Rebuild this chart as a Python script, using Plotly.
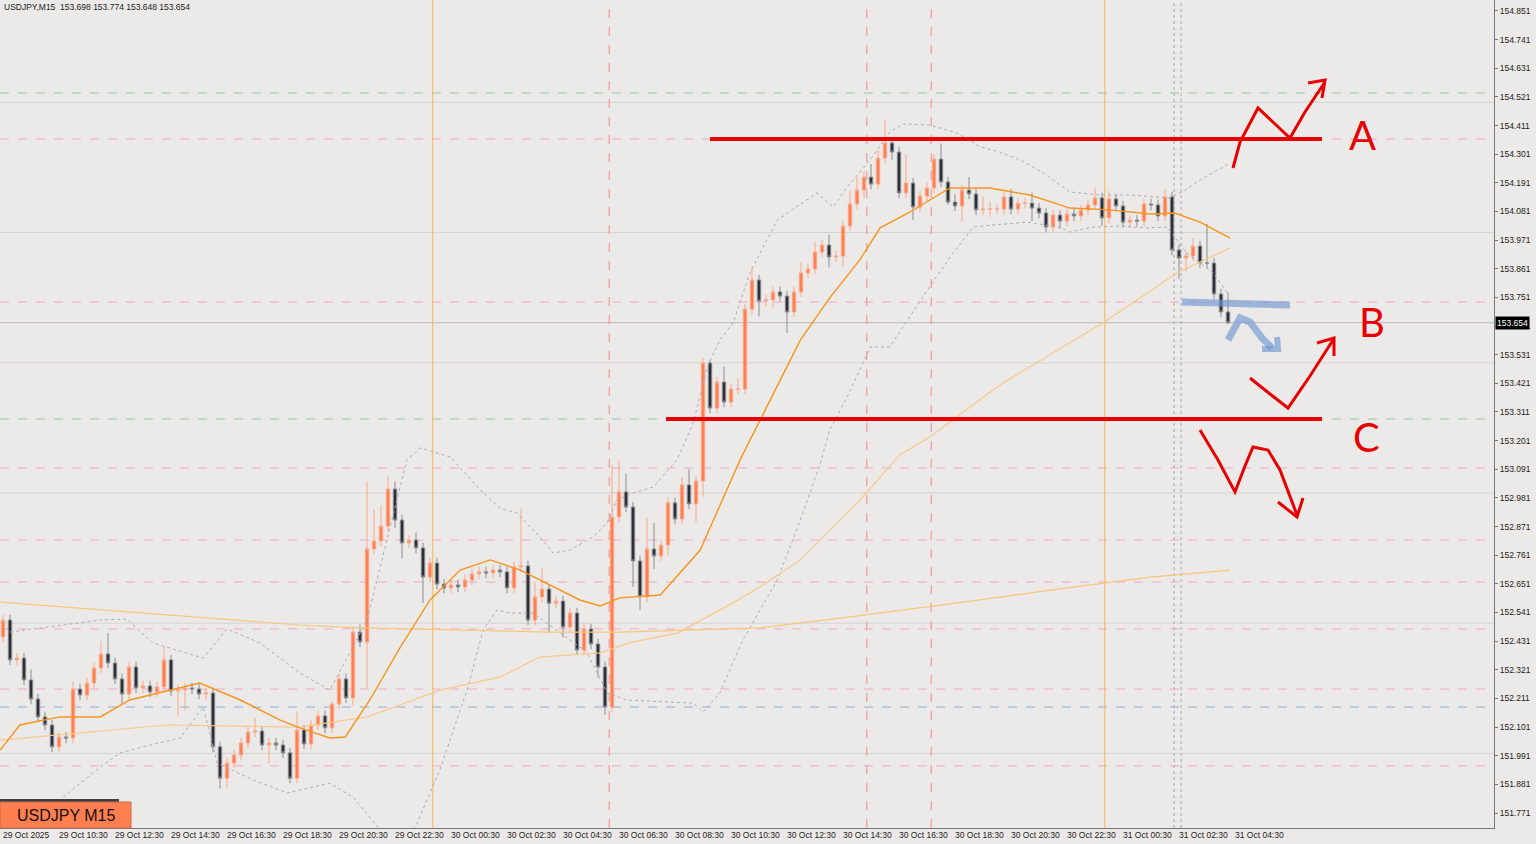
import plotly.graph_objects as go

# ---------------- data ----------------
close = [152.512,152.359,152.366,152.282,152.209,152.140,152.109,152.025,152.063,152.059,
 152.247,152.224,152.270,152.328,152.382,152.347,152.286,152.228,152.332,152.251,
 152.259,152.236,152.255,152.359,152.240,152.244,152.251,152.247,152.228,152.232,
 152.025,151.905,151.963,151.994,152.040,152.082,152.086,152.032,152.040,152.032,
 152.002,151.905,152.090,152.036,152.109,152.144,152.098,152.190,152.286,152.213,
 152.466,152.428,152.785,152.816,152.873,153.015,152.896,152.808,152.819,152.789,
 152.677,152.731,152.650,152.635,152.647,152.639,152.666,152.689,152.697,152.693,
 152.704,152.697,152.635,152.716,152.720,152.512,152.601,152.631,152.577,152.585,
 152.485,152.539,152.397,152.478,152.420,152.332,152.178,152.908,153.004,152.946,
 152.739,152.601,152.785,152.758,152.800,152.962,152.900,153.031,152.958,153.046,
 153.499,153.326,153.426,153.349,153.399,153.399,153.706,153.818,153.737,153.741,
 153.772,153.756,153.695,153.772,153.845,153.860,153.925,153.952,153.906,153.910,
 154.025,154.110,154.163,154.213,154.186,154.286,154.344,154.309,154.152,154.190,
 154.098,154.140,154.171,154.282,154.194,154.117,154.102,154.163,154.148,154.087,
 154.090,154.090,154.090,154.137,154.090,154.113,154.113,154.094,154.075,154.021,
 154.067,154.044,154.071,154.064,154.087,154.106,154.133,154.056,154.129,154.102,
 154.040,154.048,154.044,154.110,154.106,154.064,154.137,153.933,153.902,153.910,
 153.948,153.883,153.883,153.764,153.695,153.654]
first_open = 152.447

upper_wick = [.02,.02,.02,.02,.04,.02,.02,.02,.02,.02,
 .03,.02,.02,.02,.05,.08,.02,.02,.02,.02,
 .02,.02,.02,.05,.02,.02,.02,.02,.02,.02,
 .02,.02,.02,.02,.02,.02,.05,.02,.02,.02,
 .02,.02,.07,.02,.02,.02,.02,.01,.02,.02,
 .02,.03,.26,.12,.08,.05,.03,.02,.02,.03,
 .02,.02,.02,.02,.02,.02,.02,.02,.02,.02,
 .02,.02,.02,.02,.22,.02,.06,.08,.02,.02,
 .02,.02,.02,.02,.02,.02,.02,.20,.12,.07,
 .02,.02,.12,.10,.02,.02,.02,.03,.06,.02,
 .02,.01,.02,.06,.02,.04,.02,.05,.02,.02,
 .02,.02,.02,.02,.04,.02,.04,.02,.04,.02,
 .02,.05,.05,.02,.05,.03,.09,.02,.02,.11,
 .02,.02,.02,.02,.06,.02,.03,.02,.05,.02,
 .05,.03,.02,.02,.03,.02,.02,.04,.02,.02,
 .02,.02,.02,.02,.02,.02,.04,.02,.03,.02,
 .02,.02,.02,.02,.02,.02,.03,.02,.02,.02,
 .03,.02,.15,.02,.02,.076]
lower_wick = [.02,.02,.02,.02,.02,.02,.02,.02,.02,.02,
 .02,.02,.02,.02,.02,.02,.02,.04,.02,.02,
 .02,.02,.02,.02,.02,.10,.08,.02,.02,.02,
 .02,.04,.04,.02,.02,.02,.02,.02,.07,.02,
 .02,.02,.02,.02,.02,.02,.02,.02,.02,.02,
 .03,.02,.18,.02,.02,.02,.03,.06,.02,.02,
 .10,.02,.02,.02,.02,.02,.02,.02,.02,.02,
 .02,.02,.02,.02,.02,.02,.02,.02,.115,.02,
 .04,.02,.02,.02,.02,.04,.03,.02,.02,.02,
 .10,.05,.02,.05,.02,.04,.02,.02,.02,.07,
 .06,.02,.02,.02,.02,.02,.02,.02,.06,.02,
 .03,.02,.08,.02,.02,.02,.02,.02,.04,.02,
 .04,.02,.02,.03,.02,.02,.02,.03,.02,.02,
 .05,.02,.02,.02,.02,.01,.02,.06,.02,.02,
 .02,.03,.02,.02,.02,.02,.02,.05,.02,.02,
 .02,.03,.02,.02,.02,.02,.02,.03,.02,.02,
 .02,.02,.02,.02,.02,.02,.02,.02,.08,.05,
 .02,.02,.02,.02,.02,.006]

# indicator lines (bar index, price)
ma20_x = [-0.4,2.4,8.1,13.9,18.1,23.9,28.1,33.9,39.6,42.4,46.7,48.9,52.4,56.7,61,65.3,69.6,73.9,79.6,82.4,85.3,88.1,93.9,99.6,105.3,109.6,113.9,118.1,122.4,125.3,129.6,132.4,135.3,141,146.7,152.4,158.1,163.9,167.4,171,175.3]
ma20_y = [152.013,152.109,152.140,152.140,152.205,152.243,152.270,152.205,152.128,152.098,152.059,152.063,152.205,152.405,152.589,152.704,152.743,152.704,152.627,152.589,152.566,152.597,152.608,152.781,153.127,153.357,153.587,153.749,153.895,154.018,154.079,154.125,154.171,154.171,154.144,154.094,154.087,154.071,154.075,154.040,153.979]
ma50_x = [-0.4,23.4,42.4,52,56.7,62.4,71,76.7,85.3,90,96.3,104.3,108.1,113.9,122.4,128.1,132.4,142.4,157.1,167.7,175.3]
ma50_y = [152.051,152.109,152.101,152.140,152.186,152.243,152.293,152.370,152.386,152.428,152.462,152.578,152.639,152.743,152.973,153.146,153.215,153.415,153.653,153.845,153.941]
ma200_x = [-0.4,13.9,28.1,42.4,51,63.9,78.1,88.1,99.6,108.1,121,135.3,149.6,163.9,175.3]
ma200_y = [152.581,152.551,152.524,152.493,152.482,152.474,152.466,152.466,152.474,152.482,152.524,152.574,152.627,152.677,152.704]
bbu_x = [1,13.9,17.7,21.4,28.6,32,36.7,42.4,46.7,52,57.7,59.6,63.9,68.6,71,73.4,76.7,78.6,81,84.3,86.3,87.7,90,92.9,96.3,98.6,100.6,102.4,104.3,106.7,110.6,116.3,118.6,120.6,123.9,126.7,128.6,132.4,136.3,139.6,142.4,145.3,148.6,152.4,156.7,161,166.7,168.9,171,175.3]
bbu_y = [152.466,152.512,152.516,152.424,152.366,152.478,152.424,152.309,152.243,152.512,153.127,153.173,153.138,153.000,152.942,152.923,152.831,152.769,152.781,152.831,152.885,152.973,153.000,153.023,153.127,153.269,153.484,153.587,153.653,153.845,154.048,154.152,154.098,154.175,154.279,154.386,154.417,154.413,154.382,154.329,154.309,154.279,154.229,154.156,154.144,154.144,154.133,154.163,154.202,154.267]
bbl_x = [8.6,13.9,16.7,20,25.3,28.6,30.6,35.7,40.6,46.7,50,53.9,58.1,62.4,66.3,68.6,70.6,72.4,75.7,83.4,86.3,89.1,98.6,100,102.4,105.7,110.6,113.9,116.7,118.1,120.6,123.9,126.7,131.4,135.3,138.6,141.4,146.3,151,152.4,155.7,159.1,163.4,166.3,169.1,172.9,174.9]
bbl_y = [151.832,151.948,152.001,152.025,152.059,152.178,151.963,151.898,151.848,151.886,151.832,151.706,151.667,151.936,152.243,152.474,152.551,152.539,152.539,152.389,152.232,152.205,152.193,152.159,152.232,152.435,152.666,152.896,153.108,153.242,153.368,153.561,153.561,153.753,153.906,154.021,154.029,154.040,154.021,154.002,154.021,154.025,154.018,154.021,153.921,153.845,153.768]

price_ticks = [154.851,154.741,154.631,154.521,154.411,154.301,154.191,154.081,153.971,153.861,153.751,153.641,153.531,153.421,153.311,153.201,153.091,152.981,152.871,152.761,152.651,152.541,152.431,152.321,152.211,152.101,151.991,151.881,151.771]
time_labels = ["29 Oct 2025","29 Oct 10:30","29 Oct 12:30","29 Oct 14:30","29 Oct 16:30","29 Oct 18:30","29 Oct 20:30","29 Oct 22:30","30 Oct 00:30","30 Oct 02:30","30 Oct 04:30","30 Oct 06:30","30 Oct 08:30","30 Oct 10:30","30 Oct 12:30","30 Oct 14:30","30 Oct 16:30","30 Oct 18:30","30 Oct 20:30","30 Oct 22:30","31 Oct 00:30","31 Oct 02:30","31 Oct 04:30"]
label_step = 8

gray_levels = [154.5, 154.0, 153.5, 153.0, 152.5, 152.0]
pink_levels = [154.359, 153.733, 153.096, 152.819, 152.658, 152.478, 152.247, 151.952]
green_levels = [154.536, 153.284]
blue_levels = [152.178]
orange_vlines = [61.4, 157.4]
red_vlines = [86.6, 123.4, 132.6]
gray_vlines = [167.3, 168.3]
level_A = 154.359
level_C = 153.284
current = 153.654

# ---------------- figure ----------------
n = len(close)
opens = [first_open] + close[:-1]
highs = [max(o, c) + u for o, c, u in zip(opens, close, upper_wick)]
lows = [min(o, c) - d for o, c, d in zip(opens, close, lower_wick)]
idx = list(range(n))

W, H = 1536, 844
L, R, T, B = 0, 42, 0, 16
PW, PH = W - L - R, H - T - B
X0, XPX = -0.43, 7.0
Y0, YPX = 154.893, 0.00384
xr = [X0, X0 + PW / XPX]
yr = [Y0 - PH * YPX, Y0]

BULL = "#FF7F50"
BEAR = "#2B3039"

fig = go.Figure()
fig.add_trace(go.Candlestick(x=idx, open=opens, high=highs, low=lows, close=close,
    increasing=dict(line=dict(color="#F7A88A", width=1), fillcolor=BULL),
    decreasing=dict(line=dict(color="#8A8C90", width=1), fillcolor=BEAR),
    whiskerwidth=0, showlegend=False, hoverinfo="skip"))

def line(x, y, color, width, dash="solid"):
    fig.add_trace(go.Scatter(x=x, y=y, mode="lines", line=dict(color=color, width=width, dash=dash),
                             showlegend=False, hoverinfo="skip"))

line(bbu_x, bbu_y, "#ADABB8", 1, "dot")
line(bbl_x, bbl_y, "#ADABB8", 1, "dot")
line(ma200_x, ma200_y, "#F7C77A", 1.2)
line(ma50_x, ma50_y, "#F9C88A", 1.2)
line(ma20_x, ma20_y, "#F7941D", 1.4)

shapes = []
def hline(y, color, dash, width=1):
    shapes.append(dict(type="line", xref="paper", x0=0, x1=1, yref="y", y0=y, y1=y,
                       line=dict(color=color, width=width, dash=dash), layer="below"))
for g in gray_levels:
    hline(g, "#D6D4D2", "solid")
for p in pink_levels:
    hline(p, "#F4A6C6", "dash")
for g in green_levels:
    hline(g, "#8FC9A0", "dash")
for b in blue_levels:
    hline(b, "#8EAFD6", "dash")
hline(current, "#BDBBB9", "solid")

def vline(x, color, dash, width=1):
    shapes.append(dict(type="line", yref="paper", y0=0, y1=1, xref="x", x0=x, x1=x,
                       line=dict(color=color, width=width, dash=dash), layer="below"))
for v in orange_vlines:
    vline(v, "#F9B44C", "solid")
for v in red_vlines:
    vline(v, "#F08A8A", "dash")
for v in gray_vlines:
    vline(v, "#A8A8A8", "dot")

def px2x(px): return X0 + px / XPX
shapes.append(dict(type="line", xref="x", yref="y", x0=px2x(710), x1=px2x(1322), y0=level_A, y1=level_A,
                   line=dict(color="#E60000", width=4)))
shapes.append(dict(type="line", xref="x", yref="y", x0=px2x(666), x1=px2x(1322), y0=level_C, y1=level_C,
                   line=dict(color="#E60000", width=4)))

def path(pts):
    s = ""
    for k, (px, py) in enumerate(pts):
        s += ("M" if k == 0 else "L") + f"{px / PW:.5f},{1 - py / PH:.5f} "
    return s

def draw(pts, color, width):
    shapes.append(dict(type="path", xref="paper", yref="paper", path=path(pts),
                       line=dict(color=color, width=width)))

RED = "#E60000"
draw([(1233,168),(1240,142),(1258,108),(1275,124),(1290,138),(1305,112),(1325,82)], RED, 3)
draw([(1308,83),(1325,80),(1322,98)], RED, 3)
draw([(1250,378),(1270,394),(1288,408),(1310,376),(1333,340)], RED, 3)
draw([(1317,343),(1334,338),(1334,356)], RED, 3)
draw([(1200,430),(1218,460),(1235,492),(1245,466),(1253,447),(1268,450),(1280,470),(1297,515)], RED, 3)
draw([(1278,502),(1297,517),(1303,498)], RED, 3)
BLUE = "rgba(110,150,210,0.65)"
draw([(1182,302),(1290,305)], BLUE, 7)
draw([(1228,340),(1240,318),(1250,322),(1262,338),(1272,348)], BLUE, 7)
draw([(1262,349),(1278,349),(1277,337)], BLUE, 6)

shapes.append(dict(type="rect", xref="paper", yref="paper", x0=0, x1=119/PW, y0=1-802/PH, y1=1-799/PH,
                   fillcolor="#3A3F47", line=dict(width=0)))
shapes.append(dict(type="rect", xref="paper", yref="paper", x0=0, x1=131/PW, y0=0, y1=1-802/PH,
                   fillcolor="#FF7F50", line=dict(color="#C86A48", width=1)))

ann = []
FONT = "Liberation Sans"
ann.append(dict(xref="paper", yref="paper", x=66/PW, y=1-815/PH, xanchor="center", yanchor="middle",
                text="USDJPY M15", showarrow=False, font=dict(family=FONT, size=16, color="#111")))
ann.append(dict(xref="paper", yref="paper", x=2/PW, y=1, xanchor="left", yanchor="top",
                text="USDJPY,M15  153.698 153.774 153.648 153.654", showarrow=False,
                font=dict(family=FONT, size=8.5, color="#222")))
for k, lab in enumerate(time_labels):
    ann.append(dict(xref="x", yref="paper", x=k * label_step - 0.35, y=0, xanchor="left", yanchor="top",
                    yshift=0, text=lab, showarrow=False, font=dict(family=FONT, size=8.5, color="#222")))
for t, (px, py) in zip(["A", "B", "C"], [(1362,135), (1372,322), (1366,437)]):
    ann.append(dict(xref="paper", yref="paper", x=px/PW, y=1-py/PH, xanchor="center", yanchor="middle",
                    text=t, showarrow=False, font=dict(family="Lato", size=40, color=RED)))
ann.append(dict(xref="paper", yref="y", x=1, y=current, xanchor="left", yanchor="middle", text="153.654",
                showarrow=False, bgcolor="#000", font=dict(family=FONT, size=8.5, color="#fff"),
                borderpad=1, xshift=1))

fig.update_layout(width=W, height=H, margin=dict(l=L, r=R, t=T, b=B),
    paper_bgcolor="#ECEAE8", plot_bgcolor="#ECEAE8", shapes=shapes, annotations=ann,
    xaxis=dict(range=xr, showgrid=False, zeroline=False, showticklabels=False, rangeslider=dict(visible=False),
               showline=True, linecolor="#777"),
    yaxis=dict(range=yr, side="right", tickvals=price_ticks, ticktext=[f"{v:.3f}" for v in price_ticks],
               showgrid=False, zeroline=False, showline=True, linecolor="#777", ticks="outside", ticklen=3,
               tickcolor="#777", tickfont=dict(family=FONT, size=8.5, color="#222")),
    font=dict(family=FONT))
fig.write_html("out.html", config={"displayModeBar": False},
               post_script="document.body.style.margin='0';document.body.style.overflow='hidden';")
